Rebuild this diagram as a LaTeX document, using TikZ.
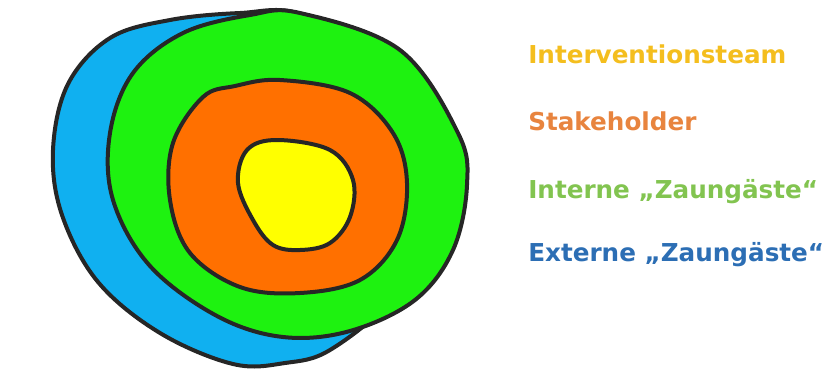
\documentclass[tikz,border=0pt]{standalone}
\usepackage{fontspec}
\newfontfamily\lblfont{DejaVu Sans}
\usetikzlibrary{positioning}

\definecolor{ringblue}{RGB}{16,176,240}
\definecolor{ringgreen}{RGB}{30,242,16}
\definecolor{ringorange}{RGB}{255,112,0}
\definecolor{ringyellow}{RGB}{255,255,0}
\definecolor{txtyellow}{RGB}{244,190,30}
\definecolor{txtorange}{RGB}{232,132,62}
\definecolor{txtgreen}{RGB}{130,196,80}
\definecolor{txtblue}{RGB}{44,110,180}

\tikzset{
  ring/.style={draw=black!85, line width=3pt, line join=round},
  legend/.style={anchor=base west, inner sep=0pt,
    font=\lblfont\bfseries\fontsize{18.5}{22}\selectfont}
}

\begin{document}
\begin{tikzpicture}[x=0.75pt,y=-0.75pt]
        \useasboundingbox (0,0) rectangle (832,369);

        % rings, outside first
        \draw [ring,fill=ringblue] plot [smooth cycle,tension=0.6] coordinates
          {(240,13) (170,20) (110,38) (68,84) (53,150) (62,215) (98,282)
           (160,333) (233,364) (285,363) (330,350) (390,300) (400,250) (380,60) (300,14)};
        \draw [ring,fill=ringgreen] plot [smooth cycle,tension=0.6] coordinates
          {(300,13) (400,50) (458,133) (467,185) (453,250) (415,300) (350,331)
           (283,337) (217,316) (150,266) (113,200) (110,133) (133,73)
           (183,33) (250,15)};
        \draw [ring,fill=ringorange] plot [smooth cycle,tension=0.6] coordinates
          {(280,80) (350,93) (393,133) (407,183) (397,240) (360,280) (300,293)
           (240,287) (190,253) (170,200) (173,143) (203,97) (235,86)};
        \draw [ring,fill=ringyellow] plot [smooth cycle,tension=0.6] coordinates
          {(277,140) (330,150) (353,180) (350,217) (330,243) (300,250)
           (273,245) (253,220) (238,183) (247,150)};

        % legend
        \node [legend,text=txtyellow] (team) at (528,63) {Interventionsteam};
        \node [legend,text=txtorange] (stake) at (528,130) {Stakeholder};
        \node [legend,text=txtgreen] (intern) at (528,198) {Interne „Zaungäste“};
        \node [legend,text=txtblue] (extern) at (528,261) {Externe „Zaungäste“};
\end{tikzpicture}
\end{document}
